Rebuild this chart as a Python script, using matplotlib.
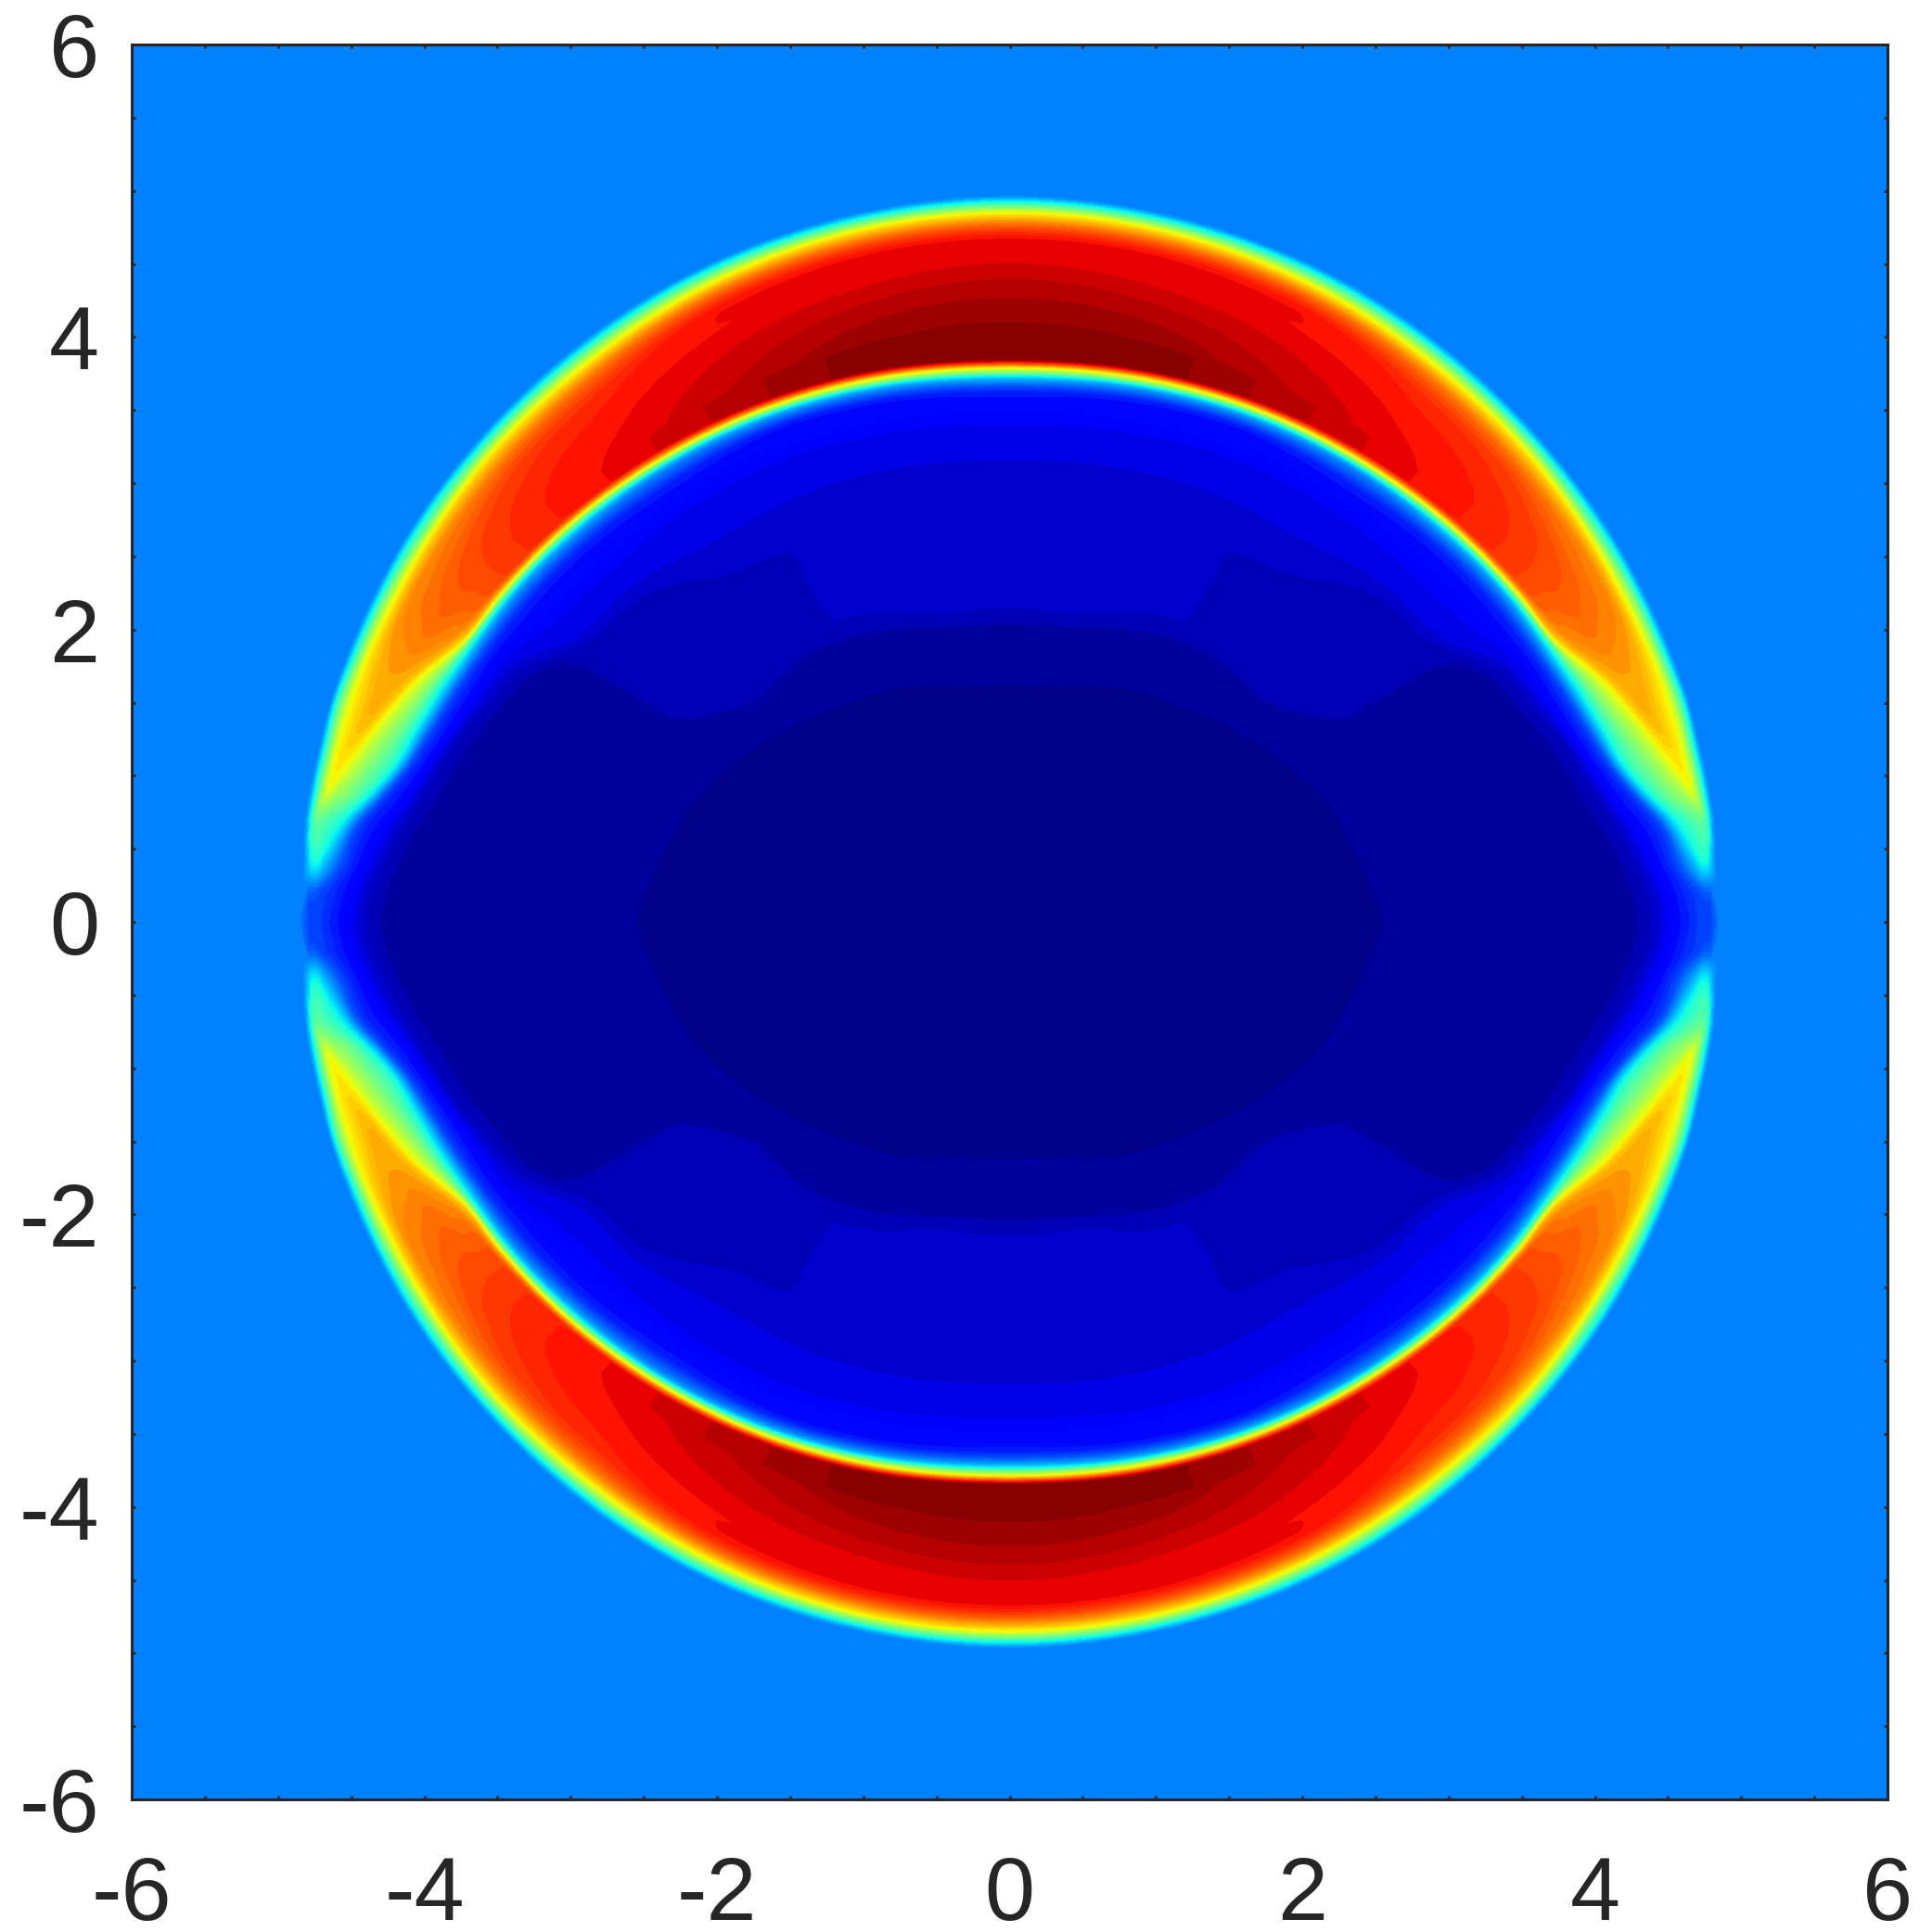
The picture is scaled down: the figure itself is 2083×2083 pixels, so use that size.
import numpy as np
import matplotlib
matplotlib.use("Agg")
import matplotlib.pyplot as plt

theta_deg = [0, 2.5, 5, 8.5, 11, 14, 18, 22, 27, 33, 42, 52, 64, 76, 90]

# Radius of each feature along each ray
radius = [
 [0,2.55,3.00,3.30,4.28,4.42,4.55,4.68,4.74,4.75,4.76,4.765,4.77,4.775,4.78,4.785,4.79,4.80,4.81,4.82,4.87],
 [0,2.53,2.98,3.25,4.25,4.40,4.52,4.64,4.72,4.74,4.75,4.76,4.765,4.77,4.775,4.78,4.785,4.79,4.795,4.80,4.85],
 [0,2.49,2.95,3.20,4.19,4.33,4.45,4.58,4.72,4.74,4.75,4.755,4.76,4.765,4.77,4.775,4.78,4.785,4.79,4.80,4.85],
 [0,2.45,2.92,3.15,4.10,4.24,4.35,4.50,4.62,4.70,4.77,4.775,4.78,4.785,4.79,4.795,4.80,4.805,4.81,4.825,4.87],
 [0,2.42,2.90,3.10,4.02,4.16,4.25,4.38,4.48,4.60,4.72,4.725,4.73,4.735,4.74,4.745,4.75,4.755,4.79,4.825,4.87],
 [0,2.38,2.85,3.05,3.95,4.08,4.16,4.26,4.35,4.49,4.62,4.64,4.66,4.68,4.70,4.715,4.73,4.745,4.79,4.825,4.87],
 [0,2.35,2.78,3.00,3.87,4.00,4.07,4.17,4.27,4.37,4.49,4.52,4.55,4.58,4.61,4.65,4.70,4.75,4.80,4.84,4.88],
 [0,2.30,2.70,2.90,3.78,3.90,4.00,4.11,4.21,4.28,4.37,4.42,4.47,4.52,4.57,4.62,4.68,4.75,4.795,4.835,4.885],
 [0,2.22,2.60,2.80,3.68,3.80,3.95,4.05,4.14,4.175,4.20,4.26,4.33,4.42,4.50,4.58,4.67,4.75,4.80,4.84,4.89],
 [0,2.13,2.45,2.65,3.42,3.55,3.85,4.00,4.09,4.115,4.135,4.19,4.27,4.37,4.48,4.58,4.68,4.76,4.80,4.85,4.90],
 [0,2.00,2.30,2.40,3.30,3.45,3.75,3.92,4.01,4.035,4.055,4.11,4.22,4.35,4.48,4.60,4.70,4.78,4.82,4.86,4.91],
 [0,1.88,2.30,2.40,2.95,3.30,3.68,3.84,3.93,3.95,3.97,4.03,4.15,4.30,4.45,4.60,4.72,4.79,4.835,4.875,4.93],
 [0,1.78,2.20,2.35,2.95,3.25,3.62,3.78,3.85,3.87,3.89,3.95,4.10,4.30,4.50,4.66,4.76,4.82,4.86,4.90,4.95],
 [0,1.66,2.08,2.18,3.00,3.20,3.55,3.71,3.78,3.80,3.825,3.89,4.08,4.30,4.50,4.69,4.78,4.84,4.875,4.91,4.96],
 [0,1.62,2.04,2.16,3.00,3.16,3.50,3.66,3.735,3.76,3.785,3.85,4.05,4.30,4.50,4.70,4.79,4.85,4.885,4.92,4.97],
]

# Colour value (0..1 on jet) at those radii
core = [.005,.02,.03,.033,.036]
value = [
 core+[.07,.125,.17,.19,.19,.19,.19,.19,.19,.19,.19,.19,.20,.21,.22,.25],
 core+[.07,.125,.17,.20,.21,.22,.22,.22,.22,.22,.22,.22,.22,.22,.23,.25],
 core+[.07,.125,.20,.34,.37,.38,.38,.38,.38,.38,.38,.38,.37,.36,.34,.25],
 core+[.07,.125,.20,.375,.43,.47,.47,.47,.47,.47,.47,.46,.45,.43,.375,.25],
 core+[.07,.125,.20,.375,.50,.60,.61,.62,.625,.625,.62,.61,.60,.50,.375,.25],
 core+[.07,.125,.20,.375,.50,.625,.65,.66,.67,.67,.66,.65,.625,.50,.375,.25],
 core+[.07,.125,.20,.375,.50,.625,.67,.70,.72,.72,.70,.67,.625,.50,.375,.25],
 core+[.07,.125,.20,.375,.50,.625,.70,.73,.74,.74,.73,.70,.625,.50,.375,.25],
 core+[.07,.125,.20,.375,.50,.625,.74,.77,.79,.78,.77,.74,.625,.50,.375,.25],
 [.005,.02,.035,.043,.045,.08,.125,.20,.375,.50,.625,.82,.83,.83,.82,.79,.75,.625,.50,.375,.25],
 [.005,.02,.04,.05,.052,.08,.125,.20,.375,.50,.625,.875,.88,.875,.86,.83,.75,.625,.50,.375,.25],
 [.005,.02,.04,.055,.056,.08,.125,.20,.375,.50,.625,.915,.91,.90,.885,.85,.75,.625,.50,.375,.25],
 [.005,.02,.04,.062,.062,.08,.125,.20,.375,.50,.625,.955,.945,.925,.90,.875,.75,.625,.50,.375,.25],
 [.005,.02,.04,.062,.062,.08,.125,.20,.375,.50,.625,.99,.975,.945,.91,.875,.75,.625,.50,.375,.25],
 [.005,.02,.04,.062,.062,.08,.125,.20,.375,.50,.625,1.0,.985,.955,.92,.875,.75,.625,.50,.375,.25],
]
background_value = 0.25

x_ticks = [-6, -4, -2, 0, 2, 4, 6]
y_ticks = [-6, -4, -2, 0, 2, 4, 6]

plt.rcParams['font.family'] = ['Liberation Sans', 'DejaVu Sans']
plt.rcParams['axes.unicode_minus'] = False
INK = '#262626'

t = np.array(theta_deg, float)
R = np.array(radius, float)
V = np.array(value, float)

# Smooth the table between rays and between features (Hermite, kept inside each interval).
def hermite(tq, tk, yk):
    m = np.gradient(yk, tk)
    m[0] = 0.0
    m[-1] = 0.0
    i = np.clip(np.searchsorted(tk, tq) - 1, 0, len(tk) - 2)
    h = tk[i + 1] - tk[i]
    s = (tq - tk[i]) / h
    y = ((2*s**3 - 3*s**2 + 1)*yk[i] + (s**3 - 2*s**2 + s)*h*m[i]
         + (-2*s**3 + 3*s**2)*yk[i + 1] + (s**3 - s**2)*h*m[i + 1])
    lo = np.minimum(yk[i], yk[i + 1])
    hi = np.maximum(yk[i], yk[i + 1])
    return np.clip(y, lo, hi)

tq = np.linspace(0, 90, 361)
Rq = np.column_stack([hermite(tq, t, R[:, j]) for j in range(R.shape[1])])
Rq = np.maximum.accumulate(Rq + np.arange(R.shape[1])*1e-4, axis=1)
Vq = np.column_stack([hermite(tq, t, V[:, j]) for j in range(V.shape[1])])

# Radial refinement on each ray: value as a smooth function of radius
idx = np.arange(R.shape[1], dtype=float)
sq = np.linspace(0, R.shape[1] - 1, 6*(R.shape[1] - 1) + 1)
Rf = np.array([np.interp(sq, idx, row) for row in Rq])
Vf = np.array([hermite(rf, rk, vk) for rf, rk, vk in zip(Rf, Rq, Vq)])
# outer flat region reaching beyond the axes
Rf = np.column_stack([Rf, np.full(len(Rf), 9.0)])
Vf = np.column_stack([Vf, np.full(len(Vf), background_value)])

# Mirror the quadrant to the full turn
th_full = np.concatenate([tq, 180 - tq[-2::-1], 180 + tq[1:], 360 - tq[-2::-1]])
R_full = np.vstack([Rf, Rf[-2::-1], Rf[1:], Rf[-2::-1]])
V_full = np.vstack([Vf, Vf[-2::-1], Vf[1:], Vf[-2::-1]])
rad = np.deg2rad(th_full)[:, None]
X = R_full*np.cos(rad)
Y = R_full*np.sin(rad)

fig = plt.figure(figsize=(20.83, 20.83), dpi=100, facecolor='white')
ax = fig.add_axes([142/2083, (2083-1940)/2083, 1893/2083, 1892/2083])
ax.set_facecolor(plt.cm.jet(background_value))
levels = np.linspace(0, 1, 51)
ax.contourf(X, Y, V_full, levels=levels, cmap='jet', vmin=0, vmax=1, antialiased=False)

ax.set_xlim(-6, 6)
ax.set_ylim(-6, 6)
ax.set_xticks(x_ticks)
ax.set_yticks(y_ticks)
ax.set_xticks(np.arange(-6, 6.01, 0.5), minor=True)
ax.set_yticks(np.arange(-6, 6.01, 0.5), minor=True)
ax.tick_params(which='both', direction='in', length=3, width=2, color=INK,
               top=True, right=True)
ax.tick_params(axis='x', which='major', pad=43, labelsize=70, labelcolor=INK)
ax.tick_params(axis='y', which='major', pad=25, labelsize=70, labelcolor=INK)
for s in ax.spines.values():
    s.set_linewidth(2.2)
    s.set_color(INK)
fig.savefig('out.png', dpi=100)
